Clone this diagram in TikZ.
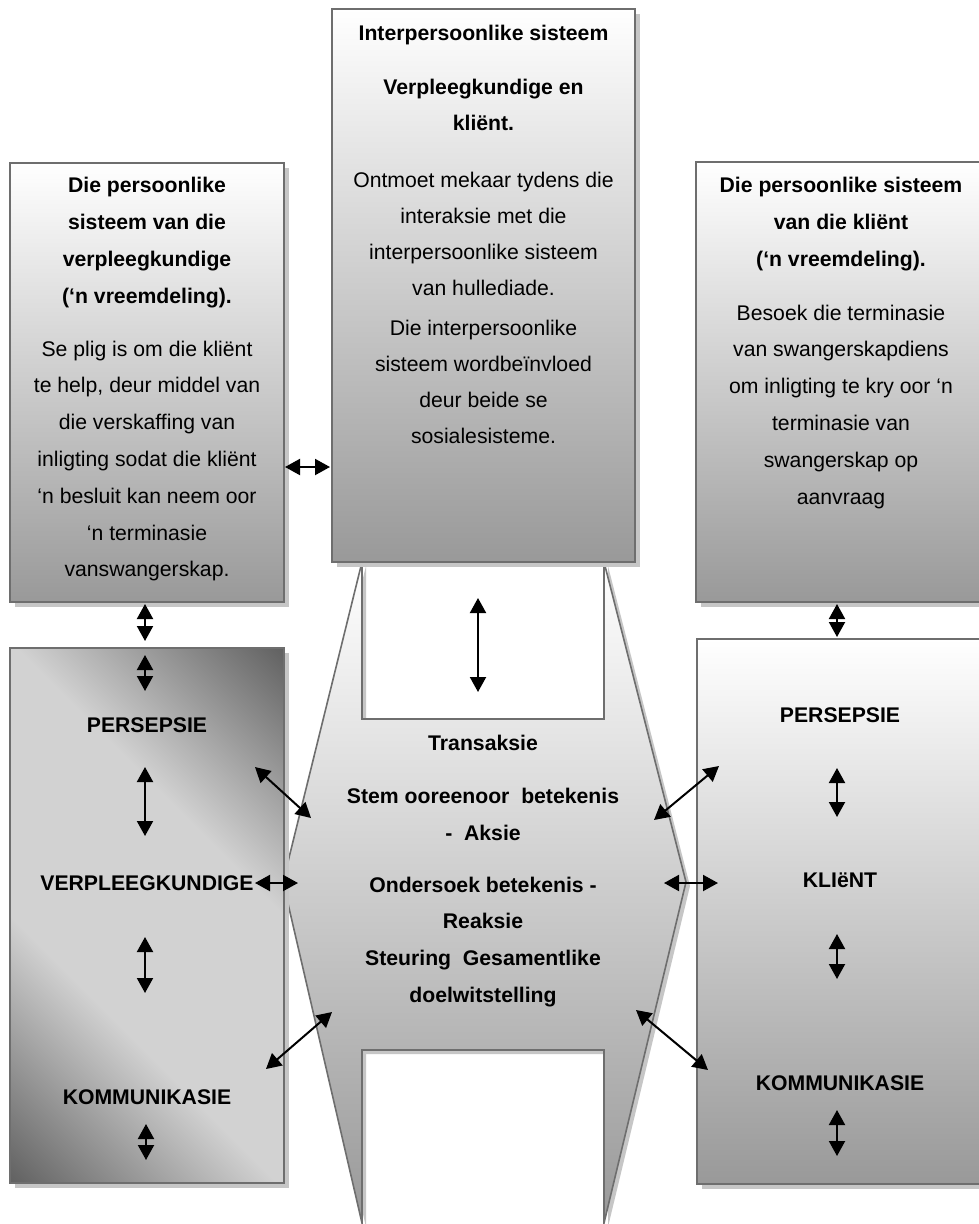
\documentclass[tikz,border=0pt]{standalone}
\usepackage{fontspec}
\setmainfont{Liberation Sans}
\usetikzlibrary{arrows.meta,shadows}

\definecolor{edgegray}{HTML}{6E6E6E}
\definecolor{shadowgray}{HTML}{C6C6C6}
\definecolor{bandDark}{HTML}{5E5E5E}
\definecolor{bandLight}{HTML}{D2D2D2}
\pgfdeclarehorizontalshading{diagband}{100bp}{color(0bp)=(bandDark); color(14bp)=(bandDark); color(38bp)=(bandLight); color(62bp)=(bandLight); color(86bp)=(bandDark); color(100bp)=(bandDark)}

\tikzset{
  panelbase/.style={draw=edgegray, line width=1.6pt, inner sep=0pt, outer sep=0pt, anchor=north west,
    drop shadow={shadow xshift=5pt, shadow yshift=-5pt, fill=shadowgray, opacity=1}},
  panel/.style={panelbase, top color=white, bottom color=black!40},
  twoway/.style={{Triangle[length=15pt,width=16pt]}-{Triangle[length=15pt,width=16pt]}, line width=2pt, black},
  bodytext/.style={inner sep=0pt, anchor=base, font=\fontsize{21.2}{36.6}\selectfont},
  boldtext/.style={inner sep=0pt, anchor=base, font=\fontsize{21.2}{36.6}\selectfont\bfseries}
}

\begin{document}
\begin{tikzpicture}[x=1pt, y=-1pt]
\useasboundingbox (0,0) rectangle (979,1224);
\clip (0,0) rectangle (979,1224);
\fill[white] (0,0) rectangle (979,1224);

% central transaction shape with its notches
\fill[shadowgray, shift={(4,4)}] (362,562) -- (362,719) -- (604,719) -- (604,562) -- (686,882) -- (604,1223)
  -- (604,1050) -- (362,1050) -- (362,1223) -- (283,882) -- cycle;
\draw[draw=edgegray, line width=1.6pt, top color=white, middle color=black!13, bottom color=black!40]
  (362,562) -- (362,719) -- (604,719) -- (604,562) -- (686,882) -- (604,1223)
  -- (604,1050) -- (362,1050) -- (362,1223) -- (283,882) -- cycle;

% system panels
\node[panel, minimum width=303pt, minimum height=553pt] (inter) at (332,9) {};
\node[panel, minimum width=274pt, minimum height=439pt] (nursesys) at (10,163) {};
\node[panel, minimum width=290pt, minimum height=440pt] (clientsys) at (696,162) {};
\node[panelbase, shade, shading=diagband, shading angle=45, minimum width=274pt, minimum height=535pt] (nursebox) at (10,648) {};
\node[panel, minimum width=288pt, minimum height=545pt] (clientbox) at (697,639) {};

% interpersonal system text
\node[boldtext] (interT) at (483.5,40) {Interpersoonlike sisteem};
\node[boldtext, font=\fontsize{21.2}{36.3}\selectfont\bfseries] (interS) at (483.5,94)
  {\parbox[t]{300pt}{\centering Verpleegkundige en\\kliënt.}};
\node[bodytext, font=\fontsize{21.2}{36.3}\selectfont] (interA) at (483.5,187)
  {\parbox[t]{300pt}{\centering Ontmoet mekaar tydens die\\interaksie met die\\interpersoonlike sisteem\\van hullediade.}};
\node[bodytext, font=\fontsize{21.2}{36.3}\selectfont] (interB) at (483.5,335)
  {\parbox[t]{300pt}{\centering Die interpersoonlike\\sisteem wordbeïnvloed\\deur beide se\\sosialesisteme.}};

% personal system of the nurse
\node[boldtext, font=\fontsize{21.2}{37.3}\selectfont\bfseries] (nurseT) at (147,192)
  {\parbox[t]{270pt}{\centering Die persoonlike\\sisteem van die\\verpleegkundige\\(‘n vreemdeling).}};
\node[bodytext, font=\fontsize{21.2}{36.8}\selectfont] (nurseD) at (147,356)
  {\parbox[t]{270pt}{\centering Se plig is om die kliënt\\te help, deur middel van\\die verskaffing van\\inligting sodat die kliënt\\‘n besluit kan neem oor\\‘n terminasie\\vanswangerskap.}};

% personal system of the client
\node[boldtext, font=\fontsize{21.2}{37.3}\selectfont\bfseries] (clientT) at (841,192)
  {\parbox[t]{280pt}{\centering Die persoonlike sisteem\\van die kliënt\\(‘n vreemdeling).}};
\node[bodytext, font=\fontsize{21.2}{36.8}\selectfont] (clientD) at (841,320)
  {\parbox[t]{280pt}{\centering Besoek die terminasie\\van swangerskapdiens\\om inligting te kry oor ‘n\\terminasie van\\swangerskap op\\aanvraag}};

% transaction text
\node[boldtext] (trans) at (483,750) {Transaksie};
\node[boldtext, font=\fontsize{21.2}{37}\selectfont\bfseries] (action) at (483,803)
  {\parbox[t]{300pt}{\centering Stem ooreenoor\ \ betekenis\\-\ \ Aksie}};
\node[boldtext, font=\fontsize{21.2}{36.8}\selectfont\bfseries] (reaction) at (483,892)
  {\parbox[t]{300pt}{\centering Ondersoek betekenis -\\Reaksie\\Steuring\ \ Gesamentlike\\doelwitstelling}};

% element labels
\node[boldtext] (nPer) at (147,732) {PERSEPSIE};
\node[boldtext] (nVer) at (147,890) {VERPLEEGKUNDIGE};
\node[boldtext] (nKom) at (147,1104) {KOMMUNIKASIE};
\node[boldtext] (cPer) at (840,722) {PERSEPSIE};
\node[boldtext] (cKli) at (840,887) {KLIëNT};
\node[boldtext] (cKom) at (840,1090) {KOMMUNIKASIE};

% arrow end points
\coordinate (p1a) at (285,467);  \coordinate (p1b) at (330,467);
\coordinate (p2a) at (145,604);  \coordinate (p2b) at (145,641);
\coordinate (p3a) at (145,655);  \coordinate (p3b) at (145,691);
\coordinate (p4a) at (145,767);  \coordinate (p4b) at (145,836);
\coordinate (p5a) at (255,883);  \coordinate (p5b) at (298,883);
\coordinate (p6a) at (145,937);  \coordinate (p6b) at (145,993);
\coordinate (p7a) at (146,1124); \coordinate (p7b) at (146,1160);
\coordinate (p8a) at (255,767);  \coordinate (p8b) at (311,818);
\coordinate (p9a) at (332,1012); \coordinate (p9b) at (266,1069);
\coordinate (q1a) at (654,820);  \coordinate (q1b) at (719,766);
\coordinate (q2a) at (636,1010); \coordinate (q2b) at (708,1070);
\coordinate (q3a) at (664,883);  \coordinate (q3b) at (718,883);
\coordinate (q4a) at (478,598);  \coordinate (q4b) at (478,692);
\coordinate (q5a) at (837,604);  \coordinate (q5b) at (837,637);
\coordinate (q6a) at (837,768);  \coordinate (q6b) at (837,817);
\coordinate (q7a) at (837,934);  \coordinate (q7b) at (837,979);
\coordinate (q8a) at (837,1110); \coordinate (q8b) at (837,1156);

\foreach \s/\e in {p1a/p1b,p2a/p2b,p3a/p3b,p4a/p4b,p5a/p5b,p6a/p6b,p7a/p7b,p8a/p8b,p9a/p9b,
                   q1a/q1b,q2a/q2b,q3a/q3b,q4a/q4b,q5a/q5b,q6a/q6b,q7a/q7b,q8a/q8b}
  \draw[twoway] (\s) -- (\e);
\end{tikzpicture}
\end{document}
